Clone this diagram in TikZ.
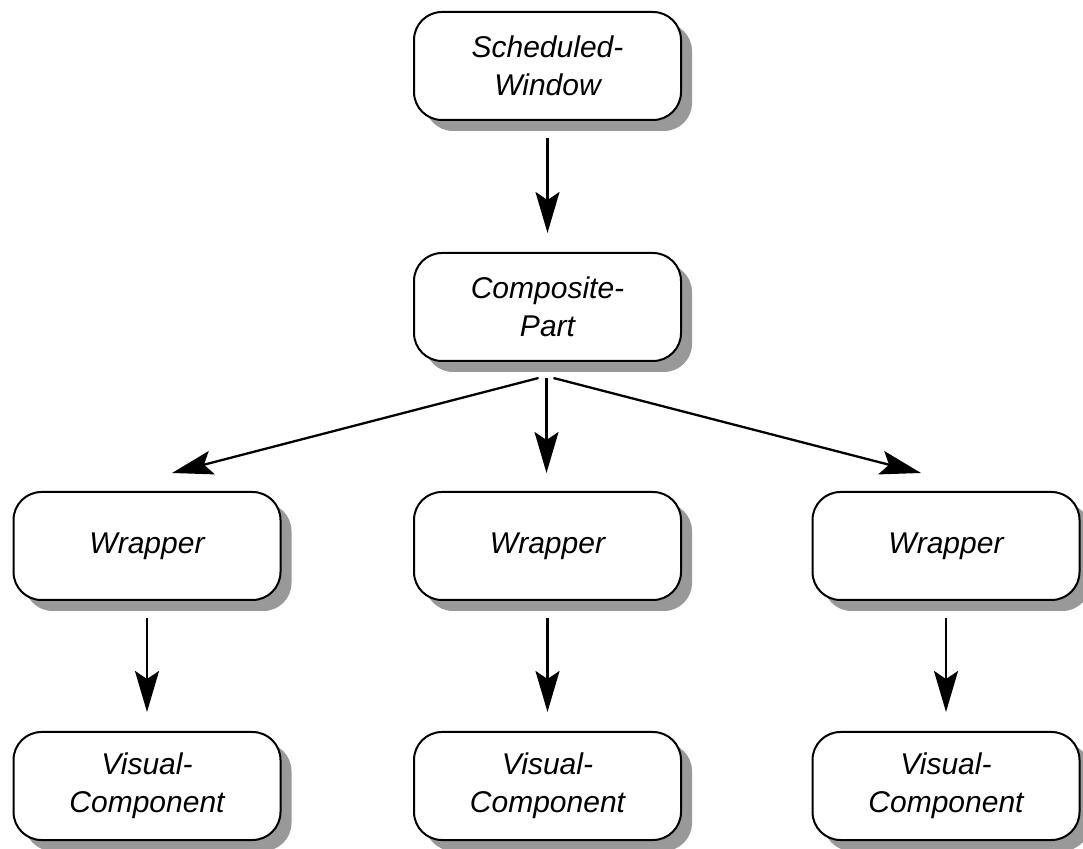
\documentclass[tikz,border=0pt]{standalone}
\usepackage{fontspec}
\setmainfont{Liberation Sans}
\usetikzlibrary{shadows,arrows.meta,calc}

\begin{document}
\begin{tikzpicture}[x=1pt,y=1pt,
  classbox/.style={draw=black, line width=2pt, fill=white, rounded corners=28pt,
    minimum width=267pt, minimum height=108pt, align=center, inner sep=0pt,
    font=\fontsize{30}{38}\selectfont\itshape,
    drop shadow={shadow xshift=11pt, shadow yshift=-11pt, fill=black!40, opacity=1}},
  link/.style={line width=2.3pt, -{Stealth[length=41pt,width=24pt,inset=8pt]}}
]
\useasboundingbox (0,0) rectangle (1083,848);

% class boxes
\node[classbox] (sw)   at (547.5,782) {Scheduled-\\Window};
\node[classbox] (comp) at (547.5,541) {Composite-\\Part};

\node[classbox] (w1) at (147,302)   {Wrapper};
\node[classbox] (w2) at (547.5,302) {Wrapper};
\node[classbox] (w3) at (946,302)   {Wrapper};

\node[classbox] (v1) at (147,62)   {Visual-\\Component};
\node[classbox] (v2) at (547.5,62) {Visual-\\Component};
\node[classbox] (v3) at (946,62)   {Visual-\\Component};

% containment links
\draw[link] ([yshift=-17pt]sw.south) -- ([yshift=19pt]comp.north);

\draw[link] ([xshift=-9pt,yshift=-16pt]comp.south) -- ([xshift=25pt,yshift=18pt]w1.north);
\draw[link] ([xshift=-1pt,yshift=-16pt]comp.south) -- ([xshift=-1pt,yshift=18pt]w2.north);
\draw[link] ([xshift=6pt,yshift=-16pt]comp.south) -- ([xshift=-25pt,yshift=18pt]w3.north);

\draw[link] ([yshift=-17pt]w1.south) -- ([yshift=19pt]v1.north);
\draw[link] ([yshift=-17pt]w2.south) -- ([yshift=19pt]v2.north);
\draw[link] ([yshift=-17pt]w3.south) -- ([yshift=19pt]v3.north);
\end{tikzpicture}
\end{document}
